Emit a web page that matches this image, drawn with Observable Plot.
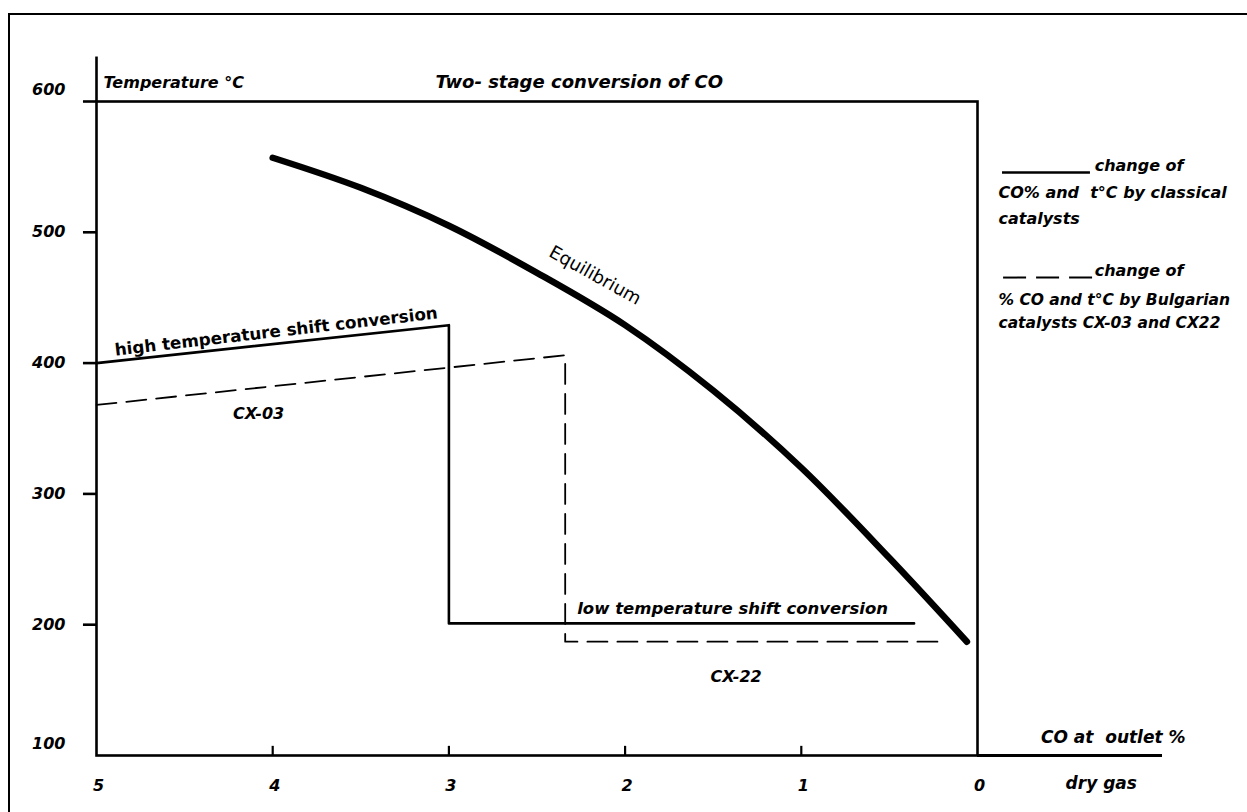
<!DOCTYPE html>
<html>
<head>
<meta charset="utf-8">
<script src="https://cdn.jsdelivr.net/npm/d3@7"></script>
<script src="https://cdn.jsdelivr.net/npm/@observablehq/plot@0.6"></script>
<style>
  html, body { margin: 0; padding: 0; background: #fff; }
  #wrap { position: relative; width: 1247px; height: 812px; overflow: hidden; background: #fff; }
  #wrap svg { display: block; }
  .border { position: absolute; left: 8px; top: 13px; right: -20px; bottom: -20px;
            border-left: 2.5px solid #000; border-top: 2.5px solid #000; pointer-events: none; }
</style>
</head>
<body>
<div id="wrap"></div>
<script>
// ---- data ----
const xTicks = [5, 4, 3, 2, 1, 0];
const yTicks = [100, 200, 300, 400, 500, 600];

// Equilibrium curve (CO % at outlet vs temperature °C)
const eqX = [4.0, 3.5, 3.0, 2.5, 2.0, 1.5, 1.0, 0.5, 0.06];
const eqT = [557, 534, 505, 469, 429, 379, 320, 251, 187];

// Classical catalysts (solid): high-temperature stage, then low-temperature stage
const classicX = [5, 3, 3, 0.36];
const classicT = [400, 429, 201, 201];

// Bulgarian catalysts CX-03 / CX-22 (dashed)
const bulgX = [5, 2.34, 2.34, 0.2];
const bulgT = [368, 406, 187, 187];

// ---- build tables ----
const eq = eqX.map((x, i) => ({x, t: eqT[i]}));
const classic = classicX.map((x, i) => ({x, t: classicT[i]}));
const bulg = bulgX.map((x, i) => ({x, t: bulgT[i]}));

const FONT = '"DejaVu Sans", sans-serif';
const txt = (o) => Object.assign({fontFamily: FONT, fontStyle: "italic", fontWeight: "bold", fill: "black", fontSize: 16}, o);

const chart = Plot.plot({
  width: 1247,
  height: 812,
  marginLeft: 96,
  marginRight: 270,
  marginTop: 101,
  marginBottom: 57,
  x: {domain: [5, 0], axis: null},
  y: {domain: [100, 600], axis: null},
  style: {background: "white", fontFamily: FONT},
  marks: [
    // axes box
    Plot.frame({stroke: "black", strokeWidth: 2.6}),
    Plot.ruleX([5], {y1: 600, y2: 634, stroke: "black", strokeWidth: 2.6}),
    Plot.ruleY([100], {x1: 0, x2: -1.05, stroke: "black", strokeWidth: 3}),
    // y ticks (to the left)
    Plot.ruleY(yTicks.filter(d => d > 100), {y: d => d, x1: 5.074, x2: 5, stroke: "black", strokeWidth: 2.6}),
    // x ticks (upward)
    Plot.ruleX(xTicks.filter(d => d > 0 && d < 5), {x: d => d, y1: 100, y2: 107, stroke: "black", strokeWidth: 2.2}),
    // y tick labels
    Plot.text(yTicks.filter(d => d > 100 && d < 600), txt({x: () => 5, y: d => d, text: d => String(d), dx: -31, textAnchor: "end"})),
    Plot.text(yTicks.filter(d => d === 100 || d === 600), txt({x: () => 5, y: d => d, text: d => String(d), dx: -31, dy: -12, textAnchor: "end"})),
    // x tick labels
    Plot.text(xTicks, txt({x: d => d, y: () => 100, text: d => String(d), dy: 30, dx: 2})),

    // data lines
    Plot.line(bulg, {x: "x", y: "t", stroke: "black", strokeWidth: 1.8, strokeDasharray: "20,10"}),
    Plot.line(classic, {x: "x", y: "t", stroke: "black", strokeWidth: 2.6}),
    Plot.line(eq, {x: "x", y: "t", stroke: "black", strokeWidth: 6.5, curve: "catmull-rom", strokeLinecap: "round"}),

    // annotations
    Plot.text(["Temperature °C"], txt({x: () => 5, y: () => 600, text: d => d, dx: 7, dy: -19, textAnchor: "start", fontSize: 16})),
    Plot.text(["Two- stage conversion of CO"], txt({x: () => 2.26, y: () => 600, text: d => d, dy: -19, fontSize: 18})),
    Plot.text(["Equilibrium"], txt({x: () => 2.17, y: () => 467, text: d => d, rotate: 29, fontStyle: "normal", fontWeight: "normal", fontSize: 18})),
    Plot.text(["high temperature shift conversion"], txt({x: () => 3.98, y: () => 424, text: d => d, rotate: -6.6, fontStyle: "normal", fontSize: 16.8})),
    Plot.text(["CX-03"], txt({x: () => 4.08, y: () => 361, text: d => d, fontSize: 16})),
    Plot.text(["low temperature shift conversion"], txt({x: () => 1.39, y: () => 212, text: d => d, fontSize: 16.5})),
    Plot.text(["CX-22"], txt({x: () => 1.37, y: () => 160, text: d => d, fontSize: 16})),

    // axis titles on the right
    Plot.text(["CO at  outlet %"], txt({x: () => -0.36, y: () => 100, text: d => d, dy: -18, textAnchor: "start", fontSize: 17})),
    Plot.text(["dry gas"], txt({x: () => -0.5, y: () => 100, text: d => d, dy: 28, textAnchor: "start", fontSize: 17})),

    // legend
    Plot.ruleY([545.7], {x1: -0.142, x2: -0.641, stroke: "black", strokeWidth: 2.4}),
    Plot.text(["change of"], txt({x: () => -0.665, y: () => 551, text: d => d, textAnchor: "start"})),
    Plot.text(["CO% and  t°C by classical"], txt({x: () => -0.119, y: () => 530.4, text: d => d, textAnchor: "start"})),
    Plot.text(["catalysts"], txt({x: () => -0.119, y: () => 510.5, text: d => d, textAnchor: "start"})),
    Plot.ruleY([465.4], {x1: -0.148, x2: -0.658, stroke: "black", strokeWidth: 2, strokeDasharray: "23,10"}),
    Plot.text(["change of"], txt({x: () => -0.665, y: () => 470.8, text: d => d, textAnchor: "start"})),
    Plot.text(["% CO and t°C by Bulgarian"], txt({x: () => -0.119, y: () => 447.9, text: d => d, textAnchor: "start", fontSize: 15.5})),
    Plot.text(["catalysts CX-03 and CX22"], txt({x: () => -0.119, y: () => 430.3, text: d => d, textAnchor: "start", fontSize: 15.5}))
  ]
});

const wrap = document.getElementById("wrap");
wrap.appendChild(chart);
const b = document.createElement("div");
b.className = "border";
wrap.appendChild(b);
</script>
</body>
</html>
